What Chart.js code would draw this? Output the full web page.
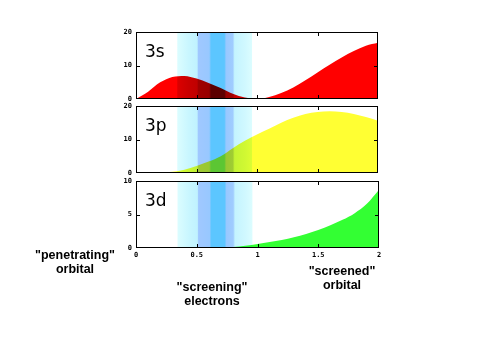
<!DOCTYPE html>
<html>
<head>
<meta charset="utf-8">
<script src="https://cdn.jsdelivr.net/npm/chart.js@4.4.0/dist/chart.umd.min.js"></script>
<style>
  html, body { margin: 0; padding: 0; background: #fff; }
  #wrap { position: relative; width: 480px; height: 360px; overflow: hidden; }
  #wrap canvas { position: absolute; left: 0; top: 0; }
  .lbl { position: absolute; font-family: "Liberation Sans", Arial, sans-serif; font-weight: bold;
         font-size: 12.5px; color: #000; text-align: center; line-height: 14px; white-space: nowrap; }
</style>
</head>
<body>
<div id="wrap">
  <canvas id="c1" width="480" height="360"></canvas>
  <canvas id="c2" width="480" height="360"></canvas>
  <canvas id="c3" width="480" height="360"></canvas>
  <div class="lbl" style="left:25px; top:248px; width:100px;">"penetrating"<br>orbital</div>
  <div class="lbl" style="left:162px; top:280px; width:100px;">"screening"<br>electrons</div>
  <div class="lbl" style="left:292px; top:264px; width:100px;">"screened"<br>orbital</div>
</div>
<script>
// ---- data ----
const radius = [0, 0.1, 0.2, 0.3, 0.4, 0.5, 0.6, 0.7, 0.8, 0.9, 1.0, 1.1, 1.2, 1.3, 1.4, 1.5, 1.6, 1.7, 1.8, 1.9, 2.0];
const s3 = [0, 2.2, 5.0, 6.6, 6.9, 6.1, 4.8, 3.3, 1.6, 0.45, 0, 0.6, 1.8, 3.4, 5.6, 7.9, 10.2, 12.4, 14.3, 15.9, 16.8];
const p3 = [0, 0, 0.2, 0.4, 1.0, 2.1, 3.4, 5.0, 7.4, 9.6, 11.5, 13.2, 15.0, 16.5, 17.6, 18.2, 18.4, 18.2, 17.6, 16.7, 15.6];
const d3 = [0, 0, 0, 0, 0, 0, 0, 0.05, 0.15, 0.35, 0.6, 0.9, 1.2, 1.6, 2.1, 2.7, 3.4, 4.2, 5.2, 6.6, 8.7];
const panelNames = ["3s", "3p", "3d"];
const panelMax = [20, 20, 10];
const panelStep = [10, 10, 5];
const xTickLabels = ["0", "0.5", "1", "1.5", "2"];
const bandRange = [0.34, 0.96];
const bandStopX = [0.34, 0.44, 0.505, 0.515, 0.605, 0.62, 0.73, 0.745, 0.80, 0.815, 0.90, 0.96];
const bandStopColor = ["#dcfdff", "#c8f6ff", "#c0f2ff", "#a0c8ff", "#98c8ff", "#5cc6ff", "#5cc6ff", "#98c8ff", "#a0ccff", "#c4f4ff", "#d0f8ff", "#dcfdff"];

// ---- layout (chart areas) ----
const areas = [
  { top: 32, bottom: 99, left: 136, right: 378 },
  { top: 106, bottom: 173, left: 136, right: 378 },
  { top: 181, bottom: 248, left: 136, right: 379 }
];
const series = [s3, p3, d3];
const fills = ["#ff0000", "#ffff33", "#33ff33"];

const framePlugin = {
  id: 'frame',
  afterDatasetDraw(chart, args) {
    if (args.index === 1) chart.ctx.globalCompositeOperation = 'multiply';
  },
  afterDatasetsDraw(chart) {
    chart.ctx.globalCompositeOperation = 'source-over';
  },
  afterDraw(chart) {
    const ctx = chart.ctx, a = chart.chartArea;
    ctx.save();
    ctx.strokeStyle = '#000';
    ctx.lineWidth = 1;
    ctx.strokeRect(Math.round(a.left) + 0.5, Math.round(a.top) + 0.5,
                   Math.round(a.right - a.left) - 1, Math.round(a.bottom - a.top) - 1);
    const xs = chart.scales.x, ys = chart.scales.y;
    ctx.beginPath();
    xs.ticks.forEach(t => {
      if (t.value <= xs.min || t.value >= xs.max) return;
      const px = Math.round(xs.getPixelForValue(t.value)) + 0.5;
      ctx.moveTo(px, a.top); ctx.lineTo(px, a.top + 4);
      ctx.moveTo(px, a.bottom); ctx.lineTo(px, a.bottom - 4);
    });
    ys.ticks.forEach(t => {
      if (t.value <= ys.min || t.value >= ys.max) return;
      const py = Math.round(ys.getPixelForValue(t.value)) + 0.5;
      ctx.moveTo(a.left, py); ctx.lineTo(a.left + 4, py);
      ctx.moveTo(a.right, py); ctx.lineTo(a.right - 4, py);
    });
    ctx.stroke();
    // panel label
    ctx.fillStyle = '#000';
    ctx.font = '17px "DejaVu Sans", sans-serif';
    ctx.textBaseline = 'alphabetic';
    ctx.textAlign = 'left';
    ctx.fillText(chart.options.panelName, a.left + 9, a.top + 25);
    ctx.restore();
  }
};

function bandGradient(context) {
  const chart = context.chart;
  if (!chart.chartArea) return '#99ccff';
  const xs = chart.scales.x;
  const x0 = xs.getPixelForValue(bandRange[0]);
  const x1 = xs.getPixelForValue(bandRange[1]);
  const g = chart.ctx.createLinearGradient(x0, 0, x1, 0);
  bandStopX.forEach((v, i) => {
    const off = (v - bandRange[0]) / (bandRange[1] - bandRange[0]);
    g.addColorStop(Math.min(1, Math.max(0, off)), bandStopColor[i]);
  });
  return g;
}

[0, 1, 2].forEach(i => {
  const a = areas[i];
  const showX = i === 2;
  const yW = 22, xH = showX ? 24 : 0;
  new Chart(document.getElementById('c' + (i + 1)), {
    type: 'line',
    data: {
      datasets: [
        {
          data: bandRange.map(x => ({ x: x, y: panelMax[i] })),
          fill: 'origin',
          backgroundColor: bandGradient,
          borderWidth: 0,
          pointRadius: 0,
          tension: 0
        },
        {
          data: radius.map((x, k) => ({ x: x, y: series[i][k] })),
          fill: 'origin',
          backgroundColor: fills[i],
          borderColor: fills[i],
          borderWidth: 0,
          pointRadius: 0,
          cubicInterpolationMode: 'monotone'
        }
      ]
    },
    options: {
      panelName: panelNames[i],
      responsive: false,
      animation: false,
      events: [],
      layout: {
        padding: { left: a.left - yW, right: 480 - a.right, top: a.top, bottom: 360 - a.bottom - xH }
      },
      plugins: { legend: { display: false }, tooltip: { enabled: false } },
      scales: {
        x: {
          type: 'linear', min: 0, max: 2,
          display: showX,
          grid: { display: false, drawTicks: false, tickLength: 0 },
          border: { display: false },
          afterFit(s) { s.height = xH; },
          ticks: {
            stepSize: 0.5, padding: 3, maxRotation: 0, autoSkip: false,
            color: '#000',
            font: { family: '"DejaVu Sans Mono", monospace', size: 7, weight: 'bold' },
            callback: (v, idx) => xTickLabels[idx]
          }
        },
        y: {
          min: 0, max: panelMax[i],
          grid: { display: false, drawTicks: false, tickLength: 0 },
          border: { display: false },
          afterFit(s) { s.width = yW; },
          ticks: {
            stepSize: panelStep[i], padding: 4,
            color: '#000',
            font: { family: '"DejaVu Sans Mono", monospace', size: 7, weight: 'bold' }
          }
        }
      }
    },
    plugins: [framePlugin]
  });
});
</script>
</body>
</html>
